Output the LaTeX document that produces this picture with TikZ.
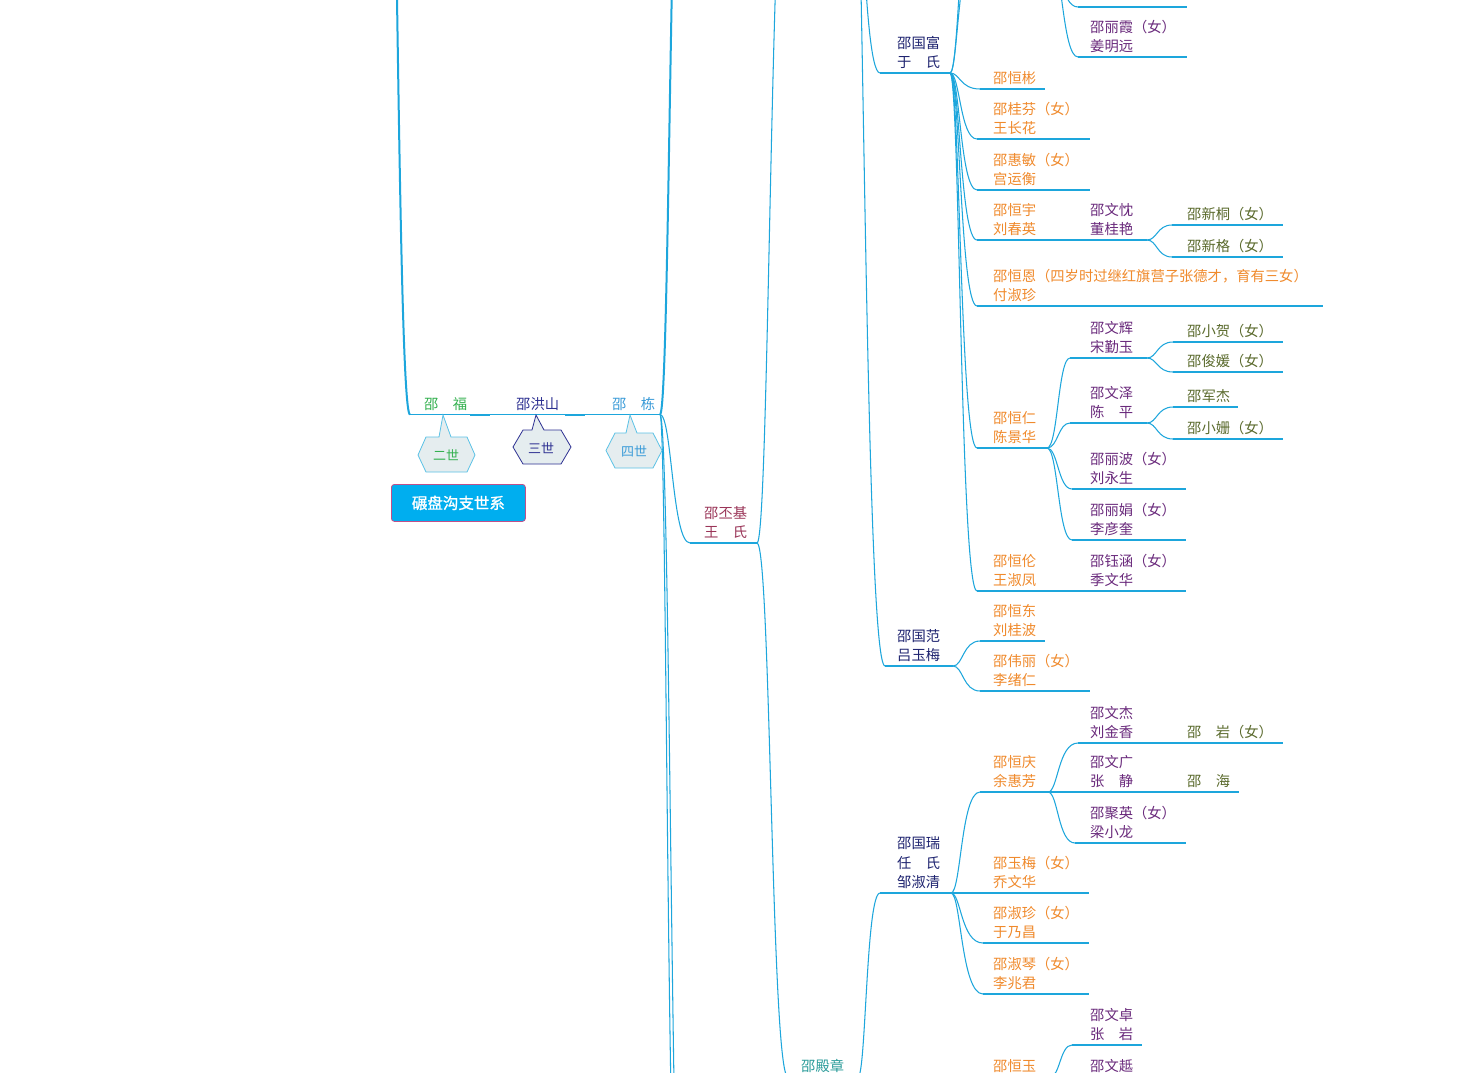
\documentclass[tikz,border=0pt]{standalone}
\usepackage{fontspec}
\setmainfont{Noto Sans CJK SC}
\newfontfamily\titlefont{Noto Sans CJK SC}[FakeBold=1.2]
\usetikzlibrary{calc}
\definecolor{ln}{HTML}{1DA6DC}
\definecolor{hexbd}{HTML}{5CC2E6}
\definecolor{cgtwo}{HTML}{32B04E}
\definecolor{cgthree}{HTML}{2E3192}
\definecolor{cgfour}{HTML}{3A9BD8}
\definecolor{cgfive}{HTML}{9A3558}
\definecolor{cgsix}{HTML}{2B9C9A}
\definecolor{cgg}{HTML}{1F2470}
\definecolor{cor}{HTML}{F08A2C}
\definecolor{cpu}{HTML}{6A2A7C}
\definecolor{col}{HTML}{5A6A2C}
\definecolor{hexfill}{HTML}{E5EDEF}
\definecolor{titlebg}{HTML}{00AEEF}
\definecolor{titlebd}{HTML}{C0508A}
\tikzset{
  cline/.style={draw=ln, line width=1.05pt},
  uline/.style={draw=ln, line width=1.15pt},
  mline/.style={draw=ln, line width=1.5pt},
  tline/.style={draw=ln, line width=2pt},
  pname/.style={anchor=base west, inner sep=0pt, font=\fontsize{14.3}{19.5}\selectfont},
  callout/.style={fill=hexfill, line width=0.8pt},
  calltext/.style={inner sep=0pt, font=\fontsize{13}{15}\selectfont},
}
\newcommand\Ln[1]{\hbox{#1}}
\newcommand\pers[8][uline]{%
  \coordinate (#2-s) at (#3,#5);
  \coordinate (#2-e) at (#4,#5);
  \draw[#1] (#2-s) -- (#2-e);
  \node[pname, text=#7] (#2) at (#6,#5-5.5) {\vbox{\baselineskip=19.5pt\lineskiplimit=-50pt\relax #8}};
}
\newcommand\cn[4][cline]{\draw[#1] (#2) .. controls ($(#2)+(#4,0)$) and ($(#2 |- #3)+(#4,0)$) .. (#3);}
\begin{document}
\begin{tikzpicture}[x=1pt,y=-1pt]
\useasboundingbox (0,0) rectangle (1477,1072);
\fill[white] (0,0) rectangle (1477,1072);
\clip (0,0) rectangle (1477,1072);

% ---------- main row ----------
\coordinate (root-e) at (385,-400);
\pers[mline]{fu}{410}{470}{414.5}{424}{cgtwo}{\Ln{邵　福}}
\pers[mline]{hs}{490}{565}{414.5}{516}{cgthree}{\Ln{邵洪山}}
\pers[mline]{dong}{585}{660}{414.5}{612}{cgfour}{\Ln{邵　栋}}
\cn[tline]{root-e}{fu-s}{12}
\draw[tline] (fu-e) -- (hs-s);
\draw[tline] (hs-e) -- (dong-s);

% children of dong
\coordinate (dup-s) at (685,-300);
\coordinate (dd1) at (680,1300);
\coordinate (dd2) at (686,1400);
\cn[tline]{dong-e}{dup-s}{10}
\cn{dong-e}{dd1}{7}
\cn{dong-e}{dd2}{11}

\pers{pj}{690}{757}{543}{704}{cgfive}{\Ln{邵丕基}\Ln{王　氏}}
\cn{dong-e}{pj-s}{12}

% children of pj
\coordinate (pjup-s) at (792,-230);
\coordinate (pjup-e) at (852,-230);
\cn{pj-e}{pjup-s}{13}
\pers{dz}{788}{858}{1077}{801}{cgsix}{\Ln{邵殿章}}
\cn{pj-e}{dz-s}{14}

% children of the parent above
\pers{gf}{880}{950}{73}{897}{cgg}{\Ln{邵国富}\Ln{于　氏}}
\pers{gfan}{885}{953}{666}{897}{cgg}{\Ln{邵国范}\Ln{吕玉梅}}
\cn{pjup-e}{gf-s}{9}
\cn{pjup-e}{gfan-s}{12}

% children of gf
\coordinate (gfu1) at (978,-60);
\coordinate (gfu2) at (978,-150);
\cn{gf-e}{gfu1}{8}
\cn{gf-e}{gfu2}{10}
\pers{hb}{980}{1045}{89}{993}{cor}{\Ln{邵恒彬}}
\pers{gfen}{977}{1090}{139}{993}{cor}{\Ln{邵桂芬（女）}\Ln{王长花}}
\pers{hm}{977}{1090}{190}{993}{cor}{\Ln{邵惠敏（女）}\Ln{宫运衡}}
\pers{hy}{977}{1075}{240}{993}{cor}{\Ln{邵恒宇}\Ln{刘春英}}
\pers{wc}{1075}{1147}{240}{1090}{cpu}{\Ln{邵文忱}\Ln{董桂艳}}
\pers{xt}{1172}{1283}{225}{1187}{col}{\Ln{邵新桐（女）}}
\pers{xg}{1172}{1283}{257}{1187}{col}{\Ln{邵新格（女）}}
\pers{he}{977}{1323}{306}{993}{cor}{\Ln{邵恒恩（四岁时过继红旗营子张德才，育有三女）}\Ln{付淑珍}}
\pers{hr}{977}{1047}{448}{993}{cor}{\Ln{邵恒仁}\Ln{陈景华}}
\pers{wh}{1070}{1147}{358}{1090}{cpu}{\Ln{邵文辉}\Ln{宋勤玉}}
\pers{xh}{1173}{1283}{342}{1187}{col}{\Ln{邵小贺（女）}}
\pers{jy}{1173}{1283}{372}{1187}{col}{\Ln{邵俊媛（女）}}
\pers{wz}{1070}{1147}{423}{1090}{cpu}{\Ln{邵文泽}\Ln{陈　平}}
\pers{jj}{1173}{1238}{407}{1187}{col}{\Ln{邵军杰}}
\pers{xs}{1173}{1283}{439}{1187}{col}{\Ln{邵小姗（女）}}
\pers{lb}{1072}{1186}{489}{1090}{cpu}{\Ln{邵丽波（女）}\Ln{刘永生}}
\pers{lj}{1072}{1186}{540}{1090}{cpu}{\Ln{邵丽娟（女）}\Ln{李彦奎}}
\pers{hl}{977}{1075}{591}{993}{cor}{\Ln{邵恒伦}\Ln{王淑凤}}
\pers{yh}{1075}{1186}{591}{1090}{cpu}{\Ln{邵钰涵（女）}\Ln{季文华}}

\cn{gf-e}{hb-s}{10}
\cn{gf-e}{gfen-s}{10}
\cn{gf-e}{hm-s}{10}
\cn{gf-e}{hy-s}{10}
\cn{gf-e}{he-s}{10}
\cn{gf-e}{hr-s}{10}
\cn{gf-e}{hl-s}{10}
\draw[uline] (hy-e) -- (wc-s);
\cn{wc-e}{xt-s}{10}
\cn{wc-e}{xg-s}{10}
\cn{hr-e}{wh-s}{11}
\cn{hr-e}{wz-s}{11}
\cn{hr-e}{lb-s}{11}
\cn{hr-e}{lj-s}{11}
\cn{wh-e}{xh-s}{10}
\cn{wh-e}{jy-s}{10}
\cn{wz-e}{jj-s}{10}
\cn{wz-e}{xs-s}{10}
\draw[uline] (hl-e) -- (yh-s);

% top-right partial branch
\coordinate (lxp-e) at (1050,-45);
\coordinate (topc-s) at (1078,7);
\coordinate (topc-e) at (1187,7);
\draw[uline] (topc-s) -- (topc-e);
\pers{lx}{1078}{1187}{57}{1090}{cpu}{\Ln{邵丽霞（女）}\Ln{姜明远}}
\cn{lxp-e}{topc-s}{10}
\cn{lxp-e}{lx-s}{12}

% children of gfan
\pers{hd}{980}{1045}{641}{993}{cor}{\Ln{邵恒东}\Ln{刘桂波}}
\pers{wl}{980}{1090}{691}{993}{cor}{\Ln{邵伟丽（女）}\Ln{李绪仁}}
\cn{gfan-e}{hd-s}{10}
\cn{gfan-e}{wl-s}{10}

% gr
\pers{gr}{880}{951}{893}{897}{cgg}{\Ln{邵国瑞}\Ln{任　氏}\Ln{邹淑清}}
\cn{dz-e}{gr-s}{8}
\pers{hq}{980}{1048}{792}{993}{cor}{\Ln{邵恒庆}\Ln{余惠芳}}
\pers{ym}{975}{1089}{893}{993}{cor}{\Ln{邵玉梅（女）}\Ln{乔文华}}
\pers{sz}{983}{1089}{943}{993}{cor}{\Ln{邵淑珍（女）}\Ln{于乃昌}}
\pers{sq}{983}{1089}{994}{993}{cor}{\Ln{邵淑琴（女）}\Ln{李兆君}}
\cn{gr-e}{hq-s}{10}
\draw[uline] (gr-e) -- (ym-s);
\cn{gr-e}{sz-s}{10}
\cn{gr-e}{sq-s}{10}

\pers{wj}{1078}{1175}{743}{1090}{cpu}{\Ln{邵文杰}\Ln{刘金香}}
\pers{yan}{1175}{1283}{743}{1187}{col}{\Ln{邵　岩（女）}}
\pers{wg}{1048}{1175}{792}{1090}{cpu}{\Ln{邵文广}\Ln{张　静}}
\pers{hai}{1175}{1239}{792}{1187}{col}{\Ln{邵　海}}
\pers{jyy}{1075}{1186}{843}{1090}{cpu}{\Ln{邵聚英（女）}\Ln{梁小龙}}
\cn{hq-e}{wj-s}{10}
\draw[uline] (hq-e) -- (wg-s);
\cn{hq-e}{jyy-s}{10}
\draw[uline] (wj-e) -- (yan-s);
\draw[uline] (wg-e) -- (hai-s);

% bottom
\coordinate (hyp) at (950,1250);
\pers{hyu}{980}{1050}{1077}{993}{cor}{\Ln{邵恒玉}}
\cn{hyp}{hyu-s}{10}
\pers{wzh}{1072}{1142}{1045}{1090}{cpu}{\Ln{邵文卓}\Ln{张　岩}}
\pers{wyu}{1072}{1142}{1077}{1090}{cpu}{\Ln{邵文趆}}
\cn{hyu-e}{wzh-s}{10}
\draw[uline] (hyu-e) -- (wyu-s);

% ---------- callouts ----------
\draw[callout, draw=hexbd] (418,455) -- (426,437) -- (439,437) -- (443,415) -- (451,437) -- (467,437) -- (475,455) -- (467,472) -- (426,472) -- cycle;
\node[calltext, text=cgtwo] (c2) at (446,455) {二世};
\draw[callout, draw=cgthree] (513,447) -- (523,430) -- (532,430) -- (536,415) -- (544,430) -- (561,430) -- (571,447) -- (561,464) -- (523,464) -- cycle;
\node[calltext, text=cgthree] (c3) at (541,448) {三世};
\draw[callout, draw=hexbd] (606,450.5) -- (615,433) -- (626,433) -- (630,415) -- (637,433) -- (653,433) -- (662,450.5) -- (653,468) -- (615,468) -- cycle;
\node[calltext, text=cgfour] (c4) at (634,451) {四世};

% ---------- title ----------
\node[fill=titlebg, draw=titlebd, rounded corners=3pt, line width=0.8pt, minimum width=134pt, minimum height=37pt, inner sep=0pt, text=white, font=\titlefont\fontsize{15.5}{18}\selectfont, anchor=north west] (title) at (391,484) {碾盘沟支世系};
\end{tikzpicture}
\end{document}
